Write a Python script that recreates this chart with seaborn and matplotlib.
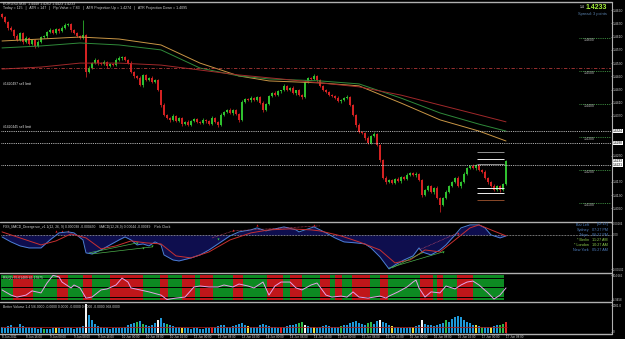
import numpy as np
import matplotlib
matplotlib.use("Agg")
import matplotlib.pyplot as plt
import seaborn as sns
from matplotlib.lines import Line2D

# ---------------- DATA ----------------
first_open = 1.4680
closes = [1.4670,1.4655,1.4636,1.4630,1.4612,1.4600,1.4621,1.4594,1.4606,1.4588,
          1.4600,1.4582,1.4594,1.4609,1.4612,1.4624,1.4630,1.4621,1.4633,1.4627,
          1.4636,1.4645,1.4648,1.4630,1.4621,1.4612,1.4606,1.4615,1.4503,1.4515,
          1.4530,1.4539,1.4530,1.4527,1.4533,1.4521,1.4527,1.4524,1.4539,1.4545,
          1.4548,1.4539,1.4530,1.4503,1.4491,1.4485,1.4464,1.4494,1.4479,1.4485,
          1.4473,1.4479,1.4448,1.4403,1.4373,1.4364,1.4358,1.4370,1.4355,1.4364,
          1.4345,1.4352,1.4342,1.4355,1.4361,1.4352,1.4348,1.4358,1.4355,1.4345,
          1.4364,1.4352,1.4342,1.4373,1.4382,1.4388,1.4379,1.4388,1.4376,1.4358,
          1.4412,1.4421,1.4418,1.4424,1.4418,1.4427,1.4409,1.4388,1.4406,1.4430,
          1.4439,1.4433,1.4445,1.4448,1.4461,1.4448,1.4455,1.4439,1.4448,1.4433,
          1.4427,1.4473,1.4485,1.4482,1.4491,1.4479,1.4461,1.4448,1.4442,1.4433,
          1.4430,1.4424,1.4415,1.4418,1.4424,1.4427,1.4403,1.4373,1.4342,1.4321,
          1.4318,1.4303,1.4288,1.4309,1.4315,1.4282,1.4236,1.4182,1.4170,1.4176,
          1.4167,1.4179,1.4173,1.4185,1.4179,1.4191,1.4197,1.4191,1.4194,1.4176,
          1.4130,1.4145,1.4158,1.4139,1.4152,1.4121,1.4100,1.4121,1.4139,1.4158,
          1.4170,1.4182,1.4158,1.4170,1.4194,1.4212,1.4218,1.4212,1.4221,1.4206,
          1.4200,1.4182,1.4170,1.4158,1.4145,1.4158,1.4145,1.4164,1.4233]
wick_up_pips = [3,4,2,5,3,6,4,3,5,2, 4,3,5,2,4,3,6,2,4,3, 5,6,3,2,4,3,2,46,3,5,
                4,6,3,2,5,3,4,2,5,6, 4,3,2,5,3,4,6,3,2,4, 5,3,4,2,6,3,4,5,2,3,
                4,3,5,2,4,3,2,5,3,4, 6,3,2,5,4,3,5,2,4,3, 5,4,3,6,2,4,3,5,4,3,
                4,5,3,2,6,4,3,5,2,4, 3,5,4,3,6,2,4,3,5,2, 4,3,5,2,4,6,3,4,2,5,
                3,4,5,2,6,3,4,2,5,3, 4,2,5,3,4,6,3,2,5,4, 3,5,2,4,3,6,4,3,5,2,
                4,3,6,2,5,4,3,5,2,4, 3,5,2,4,6,3,4,2,3]
wick_dn_pips = [4,2,5,3,6,2,4,5,3,4, 3,5,2,4,3,5,2,4,3,5, 2,4,3,5,3,4,2,3,15,4,
                3,2,5,4,3,6,2,4,3,2, 5,3,4,2,6,3,4,5,2,3, 4,2,3,5,4,3,6,2,4,3,
                5,3,2,4,3,5,2,4,6,3, 2,4,5,3,2,4,3,5,2,6, 3,2,4,5,3,2,4,6,3,2,
                4,3,2,5,3,4,2,3,5,4, 6,3,2,4,3,5,2,4,3,2, 3,4,2,5,3,2,4,3,6,3,
                2,5,4,3,2,4,6,3,5,2, 4,3,2,5,3,4,2,3,5,4, 6,3,4,2,5,3,21,4,3,2,
                3,4,2,5,3,4,2,3,5,4, 3,4,5,2,4,3,6,4,2]

ma_bars = [0, 13, 26, 39, 53, 66, 79, 89, 106, 119, 133, 146, 159, 168]
ma_orange = [1.4597,1.4603,1.4609,1.4603,1.4585,1.4530,1.4491,1.4476,1.4470,1.4461,1.4409,1.4358,1.4324,1.4294]
ma_green = [1.4576,1.4582,1.4591,1.4585,1.4570,1.4515,1.4491,1.4482,1.4476,1.4467,1.4424,1.4379,1.4345,1.4324]
ma_red_bars = [0, 13, 26, 39, 53, 66, 79, 93, 106, 119, 133, 146, 159, 168]
ma_red = [1.4512,1.4518,1.4530,1.4530,1.4524,1.4509,1.4494,1.4482,1.4470,1.4458,1.4433,1.4403,1.4373,1.4352]

resistance_level = 1.4515
order_levels = [1.4324, 1.4288, 1.4221]
order_labels = ["#1420497 sell limit", "#1420445 sell limit"]
order_label_prices = [1.4461, 1.4330]
pivot_levels = [1.4262, 1.4239, 1.4224, 1.4151, 1.4136, 1.4115]
pivot_kinds = ["g", "w", "g", "w", "w", "b"]
round_levels = [1.4600, 1.4500, 1.4400, 1.4300, 1.4200, 1.4100]
price_ticks = [1.4690,1.4650,1.4610,1.4570,1.4530,1.4490,1.4450,1.4410,1.4370,
               1.4250,1.4170,1.4130,1.4090]
boxed_prices = [1.4324, 1.4288, 1.4233, 1.4221]
last_price = "1.4233"

macd_bars = [0,3,6,9,13,16,19,22,24,27,28,30,33,36,39,41,43,45,47,49,51,53,54,57,59,63,66,69,73,76,
             79,83,85,88,91,94,98,99,102,104,106,108,111,114,118,121,123,126,129,131,134,137,139,140,143,
             146,148,151,153,156,159,161,163,166,168]
macd_main = [-0.00029,-0.00100,-0.00157,-0.00186,-0.00186,-0.00072,0.00029,0.00043,0.00029,-0.00072,
             -0.00257,-0.00272,-0.00215,-0.00143,-0.00072,-0.00029,-0.00072,-0.00143,-0.00129,-0.00157,
             -0.00100,-0.00143,-0.00286,-0.00358,-0.00372,-0.00329,-0.00286,-0.00215,-0.00100,-0.00014,
             0.00043,0.00072,0.00100,0.00057,0.00086,0.00114,0.00072,0.00043,0.00086,0.00114,
             0.00072,0.00029,-0.00043,-0.00100,-0.00114,-0.00129,-0.00186,-0.00315,-0.00486,-0.00429,
             -0.00358,-0.00300,-0.00186,-0.00243,-0.00286,-0.00215,-0.00143,0.00000,0.00100,0.00143,
             0.00143,0.00100,0.00000,-0.00043,-0.00014]
signal_bars = [0,6,13,18,23,28,33,38,43,48,53,58,63,69,76,83,89,96,103,106,113,119,126,131,136,141,
               146,151,156,159,163,168]
macd_signal = [0.00043,-0.00043,-0.00143,-0.00086,0.00014,-0.00043,-0.00200,-0.00157,-0.00086,-0.00114,
               -0.00129,-0.00300,-0.00329,-0.00243,-0.00072,0.00029,0.00072,0.00086,0.00072,0.00057,
               -0.00014,-0.00100,-0.00215,-0.00400,-0.00358,-0.00215,-0.00243,-0.00072,0.00100,0.00143,
               0.00072,-0.00014]
bear_marks_bars = [18, 20, 22, 77, 85, 92, 104, 152]
bear_marks_vals = [0.00057, 0.00057, 0.00057, 0.00072, 0.00143, 0.00100, 0.00143, 0.00029]
bull_marks_bars = [45, 47, 50, 72, 140, 147]
bull_marks_vals = [-0.00115, -0.00186, -0.00157, -0.00057, -0.00243, -0.00243]
bull_div = [((29, -0.00257), (45, -0.00115)), ((30, -0.00272), (50, -0.00172)),
            ((129, -0.00472), (147, -0.00243)), ((130, -0.00472), (140, -0.00257))]
bear_div = [((70, -0.00043), (77, 0.00057)), ((77, 0.00057), (106, 0.00129)),
            ((139, -0.00215), (152, 0.00029))]

rsi_bars = [0,3,5,8,10,13,15,17,19,20,23,24,26,28,30,33,35,38,40,42,43,46,49,53,55,58,61,64,66,69,
            72,74,77,79,82,84,87,89,91,93,96,98,100,103,105,106,108,110,113,115,117,119,122,124,126,
            128,129,132,135,137,138,139,141,143,146,148,151,153,155,157,159,162,164,166,168]
rsi_vals = [40,19,11,19,36,28,68,99,93,72, 48,60,48,7,11,40,44,60,88,72,
            48,40,32,19,1,7,11,52,56,52, 52,60,52,64,56,48,72,19,56,72,
            72,48,40,60,68,52,19,11,15,11, 32,11,7,11,15,7,15,32,52,72,
            80,48,11,32,28,56,44,60,72,76, 60,28,3,19,48]
rsi_levels = [90, 50, 10]
band_edges = [-0.5, 3.7, 10.3, 18.3, 22, 27, 30, 36, 47, 52.7, 55.3, 60, 64.3, 66, 70.3, 77, 80.3,
              88.3, 93.7, 96, 100, 106, 109.3, 111, 113.3, 116.7, 122.7, 126, 128.7, 139.3, 143.7,
              145, 147, 151.7, 157, 167.5]
band_colors = "grgrgrgrgrgrgrgrgrgrgrgrgrgrgrgrgrg"

volume = [420,350,480,560,400,380,620,500,430,380, 360,310,290,330,300,270,290,310,350,320,
          300,360,430,320,280,320,400,480,2000,1250, 900,620,470,420,360,320,300,330,310,360,
          320,430,520,610,680,760,820,620,520,470, 560,720,880,1020,720,610,520,470,420,390,
          360,330,310,290,330,360,300,280,320,340, 380,430,470,560,520,430,380,460,520,610,
          680,560,470,420,380,430,560,650,560,470, 420,380,350,390,430,470,520,560,620,700,
          780,560,470,420,380,350,400,460,520,480, 430,390,420,470,520,560,660,760,820,720,
          620,560,680,760,620,820,900,780,660,560, 470,420,380,350,330,360,380,400,450,520,
          900,640,560,520,480,560,620,700,880,760, 960,1100,1160,1080,920,780,660,560,520,470,
          430,400,380,420,460,520,560,620,740]
volume_special = {28: "w", 52: "w", 101: "w", 126: "w", 140: "w", 70: "r", 93: "r", 168: "r",
                  14: "g", 45: "g", 47: "g", 55: "g", 99: "g", 100: "g", 113: "g", 122: "g", 123: "g",
                  148: "g", 160: "g", 166: "g", 167: "g",
                  18: "y", 60: "y", 82: "y", 104: "y", 130: "y", 137: "y", 158: "y", 163: "y"}
volume_avg = 380

x_labels = ["8 Jun 2011", "8 Jun 16:00", "9 Jun 00:00", "9 Jun 08:00", "9 Jun 16:00", "10 Jun 00:00",
            "10 Jun 08:00", "10 Jun 16:00", "13 Jun 00:00", "13 Jun 08:00", "13 Jun 16:00",
            "14 Jun 00:00", "14 Jun 08:00", "14 Jun 16:00", "15 Jun 00:00", "15 Jun 08:00",
            "15 Jun 16:00", "16 Jun 00:00", "16 Jun 08:00", "16 Jun 16:00", "17 Jun 00:00",
            "17 Jun 08:00"]
clock_names = ["Bar Left", "Sydney", "Tokyo", "* Berlin", "* London", "New York"]
clock_times = ["[02:13]", "07:27 PM", "06:27 PM", "11:27 AM", "10:27 AM", "05:27 AM"]
clock_local = [False, False, False, True, True, False]

# ---------------- STYLE ----------------
sns.set_style("dark")
plt.rcParams['font.family'] = ['Liberation Sans', 'DejaVu Sans']
BG = "black"
UP = "#2fc02f"
DN = "#d42222"
GRID = "#a8a8a8"
TXT = "#d0d0d0"
FS = 2.4

W, H = 625, 339
fig = plt.figure(figsize=(W / 100, H / 100), dpi=100, facecolor=BG)


def fx(px):
    return px / W


def fy(py):
    return 1 - py / H


def make_ax(top, bottom, fs=FS):
    ax = fig.add_axes([fx(1), fy(bottom), fx(611) - fx(1), (bottom - top) / H])
    ax.set_facecolor(BG)
    for s in ax.spines.values():
        s.set_visible(False)
    ax.set_xlim(-1 / 3, 203)
    ax.grid(False)
    ax.yaxis.tick_right()
    ax.tick_params(axis="y", colors=GRID, labelcolor=TXT, labelsize=fs, length=1.0, width=0.5, pad=0.5)
    ax.tick_params(axis="x", bottom=False, labelbottom=False)
    ax.set_xlabel("")
    ax.set_ylabel("")
    return ax


ax = make_ax(2, 221)
axm = make_ax(223, 272, 2.0)
axr = make_ax(274, 301, 2.0)
axv = make_ax(303, 333, 2.2)

# ---------------- MAIN ----------------
n = len(closes)
idx = np.arange(n)
c = np.array(closes)
o = np.concatenate([[first_open], c[:-1]])
hi = np.maximum(o, c) + np.array(wick_up_pips) / 10000
lo = np.minimum(o, c) - np.array(wick_dn_pips) / 10000
cols = np.where(c >= o, UP, DN)
ax.vlines(idx, lo, hi, colors=cols, lw=0.55)
ax.bar(idx, np.maximum(np.abs(c - o), 0.00005), bottom=np.minimum(o, c), width=0.55,
       color=cols, linewidth=0)

sns.lineplot(x=ma_bars, y=ma_orange, ax=ax, color="#c99645", lw=0.7, legend=False)
sns.lineplot(x=ma_bars, y=ma_green, ax=ax, color="#2f8a3a", lw=0.7, legend=False)
sns.lineplot(x=ma_red_bars, y=ma_red, ax=ax, color="#a0282a", lw=0.7, legend=False)

ax.axhline(resistance_level, color="#b03838", lw=0.6, ls=(0, (4, 2, 1, 2)))
for lv in order_levels:
    ax.axhline(lv, color="#e8e8e8", lw=0.6, ls=(0, (1, 1.2)))
for t, p in zip(order_labels, order_label_prices):
    ax.text(0.3, p, t, color="#e0e0e0", fontsize=2.4, va="bottom", ha="left")
pcol = {"g": "#909090", "w": "#f0f0f0", "b": "#8b4a2a"}
for lv, k in zip(pivot_levels, pivot_kinds):
    ax.hlines(lv, 158.3, 167.4, color=pcol[k], lw=0.7)
for lv in round_levels:
    ax.hlines(lv + 0.0006, 192.3, 203, color="#4caf50", lw=0.6, ls=(0, (1, 1.2)))
    ax.text(193.8, lv - 0.0001, f"{lv:.4f}", color="#b8b8b8", fontsize=2.5, va="center", ha="left")

ax.set_ylim(1.405152, 1.471515)
ax.set_yticks(price_ticks)
ax.set_yticklabels([f"{p:.4f}" for p in price_ticks])
ax.set_xlabel("")
ax.set_ylabel("")
for p in boxed_prices:
    ax.text(1.002, p, f"{p:.4f}", transform=ax.get_yaxis_transform(), fontsize=2.3, color="black",
            va="center", ha="left",
            bbox=dict(facecolor="white", edgecolor="none", pad=0.3))

# headers
fig.text(fx(3), fy(3.5), "EURUSD,M30  1.4448 1.4262 1.4423 1.4233", color=TXT, fontsize=2.6,
         va="center", ha="left")
fig.text(fx(3), fy(8), "Today = 115   |   ATR = 147   |   Pip Value = 7.83   |   ATR Projection Up = 1.4274"
         "   |   ATR Projection Down = 1.4095", color=TXT, fontsize=2.6, va="center", ha="left")
fig.text(fx(607), fy(7.5), last_price, color="#a6f03c", fontsize=5.0, fontweight="bold",
         va="center", ha="right")
fig.text(fx(584), fy(6.5), "1.4", color="white", fontsize=2.4, va="center", ha="right")
fig.text(fx(607), fy(14.5), "Spread: 3 points", color="#5b84b1", fontsize=2.9, va="center", ha="right")

# ---------------- MACD ----------------
axm.set_ylim(-0.0053, 0.0017)
axm.fill_between(macd_bars, 0, macd_main, color="#0e0e4e", lw=0)
axm.axhline(0, color="#e0e0e0", lw=0.5, ls=(0, (1, 1.2)))
sns.lineplot(x=macd_bars, y=macd_main, ax=axm, color="#4c80d4", lw=0.7, legend=False)
sns.lineplot(x=signal_bars, y=macd_signal, ax=axm, color="#c83030", lw=0.7, legend=False)
for (a, b) in bull_div:
    axm.plot([a[0], b[0]], [a[1], b[1]], color="#4cb04c", lw=0.5)
for (a, b) in bear_div:
    axm.plot([a[0], b[0]], [a[1], b[1]], color="#d05070", lw=0.5, ls=(0, (1, 1)))
axm.scatter(bear_marks_bars, bear_marks_vals, marker="^", s=2.5, color="#e02020", lw=0)
axm.scatter(bull_marks_bars, bull_marks_vals, marker="v", s=2.5, color="#40c040", lw=0)
axm.set_yticks([0.00166, 0.0, -0.0049])
axm.set_yticklabels(["0.00166", "0.00", "-0.00502"])
axm.set_xlabel("")
axm.set_ylabel("")
axm.text(0.004, 0.96, "FXS_MACD_Divergence_v1.1(12, 26, 9) 0.000038 -0.000450    MACD(12,26,9) 0.00044 -0.00049    Pink Clock",
         transform=axm.transAxes, color=TXT, fontsize=2.4, va="top", ha="left")
for k, (nm, tm, loc) in enumerate(zip(clock_names, clock_times, clock_local)):
    colr = "#8fd04f" if loc else "#4f7fbf"
    yy = 224.5 + k * 5.1
    fig.text(fx(589), fy(yy), nm, color=colr, fontsize=2.7, va="center", ha="right")
    fig.text(fx(608), fy(yy), tm, color=colr, fontsize=2.7, va="center", ha="right")

# ---------------- RSI ----------------
axr.set_ylim(-4.9458, 104.665)
for k in range(len(band_edges) - 1):
    colr = "#c0161a" if band_colors[k] == "r" else "#0d8a22"
    axr.axvspan(band_edges[k], band_edges[k + 1], color=colr, lw=0, ymin=0.04, ymax=0.97)
for lv in rsi_levels:
    axr.hlines(lv, band_edges[0], band_edges[-1], color="black", lw=0.7)
sns.lineplot(x=rsi_bars, y=rsi_vals, ax=axr, color="#e6a2ea", lw=0.7, legend=False)
axr.set_yticks([100, 0])
axr.set_yticklabels(["104.665", "-4.9458"])
axr.set_xlabel("")
axr.set_ylabel("")
axr.text(0.004, 0.93, "RSI(2) 55.61489 46.17875", transform=axr.transAxes, color=TXT, fontsize=2.4,
         va="top", ha="left")

# ---------------- VOLUME ----------------
vcol_map = {"b": "#1e98d8", "g": "#2fb84a", "y": "#e8e040", "w": "#f4f4f4", "r": "#e02424"}
vcols = [vcol_map[volume_special.get(i, "b")] for i in range(len(volume))]
axv.bar(np.arange(len(volume)), volume, width=0.7, color=vcols, linewidth=0)
axv.hlines(volume_avg, -0.5, len(volume) - 0.5, color="#a01818", lw=0.6)
axv.set_ylim(0, 2060)
axv.set_yticks([1900, 100])
axv.set_yticklabels(["2001.0", "0"])
axv.set_xlabel("")
axv.set_ylabel("")
axv.text(0.004, 0.95, "Better Volume 1.4 5/6.0000 -0.0000 0.0000 -0.0000 0.0000 -0.0000 368.0000",
         transform=axv.transAxes, color=TXT, fontsize=2.4, va="top", ha="left")
axv.set_xticks(np.arange(len(x_labels)) * 8)
axv.set_xticklabels(x_labels)
axv.tick_params(axis="x", bottom=True, labelbottom=True, colors=GRID, labelcolor=TXT,
                labelsize=2.2, length=1.2, width=0.5, pad=0.6)
for lab in axv.get_xticklabels():
    lab.set_ha("left")

# ---------------- FRAME LINES ----------------
for yy in [1.5, 222, 273, 302, 333.5]:
    fig.add_artist(Line2D([0, fx(611.5)], [fy(yy), fy(yy)], color="#b0b0b0", lw=1.0))
fig.add_artist(Line2D([fx(611.5), fx(611.5)], [fy(1.5), fy(333.5)], color="#b0b0b0", lw=0.8))

fig.savefig("out.png", dpi=100, facecolor=BG)
